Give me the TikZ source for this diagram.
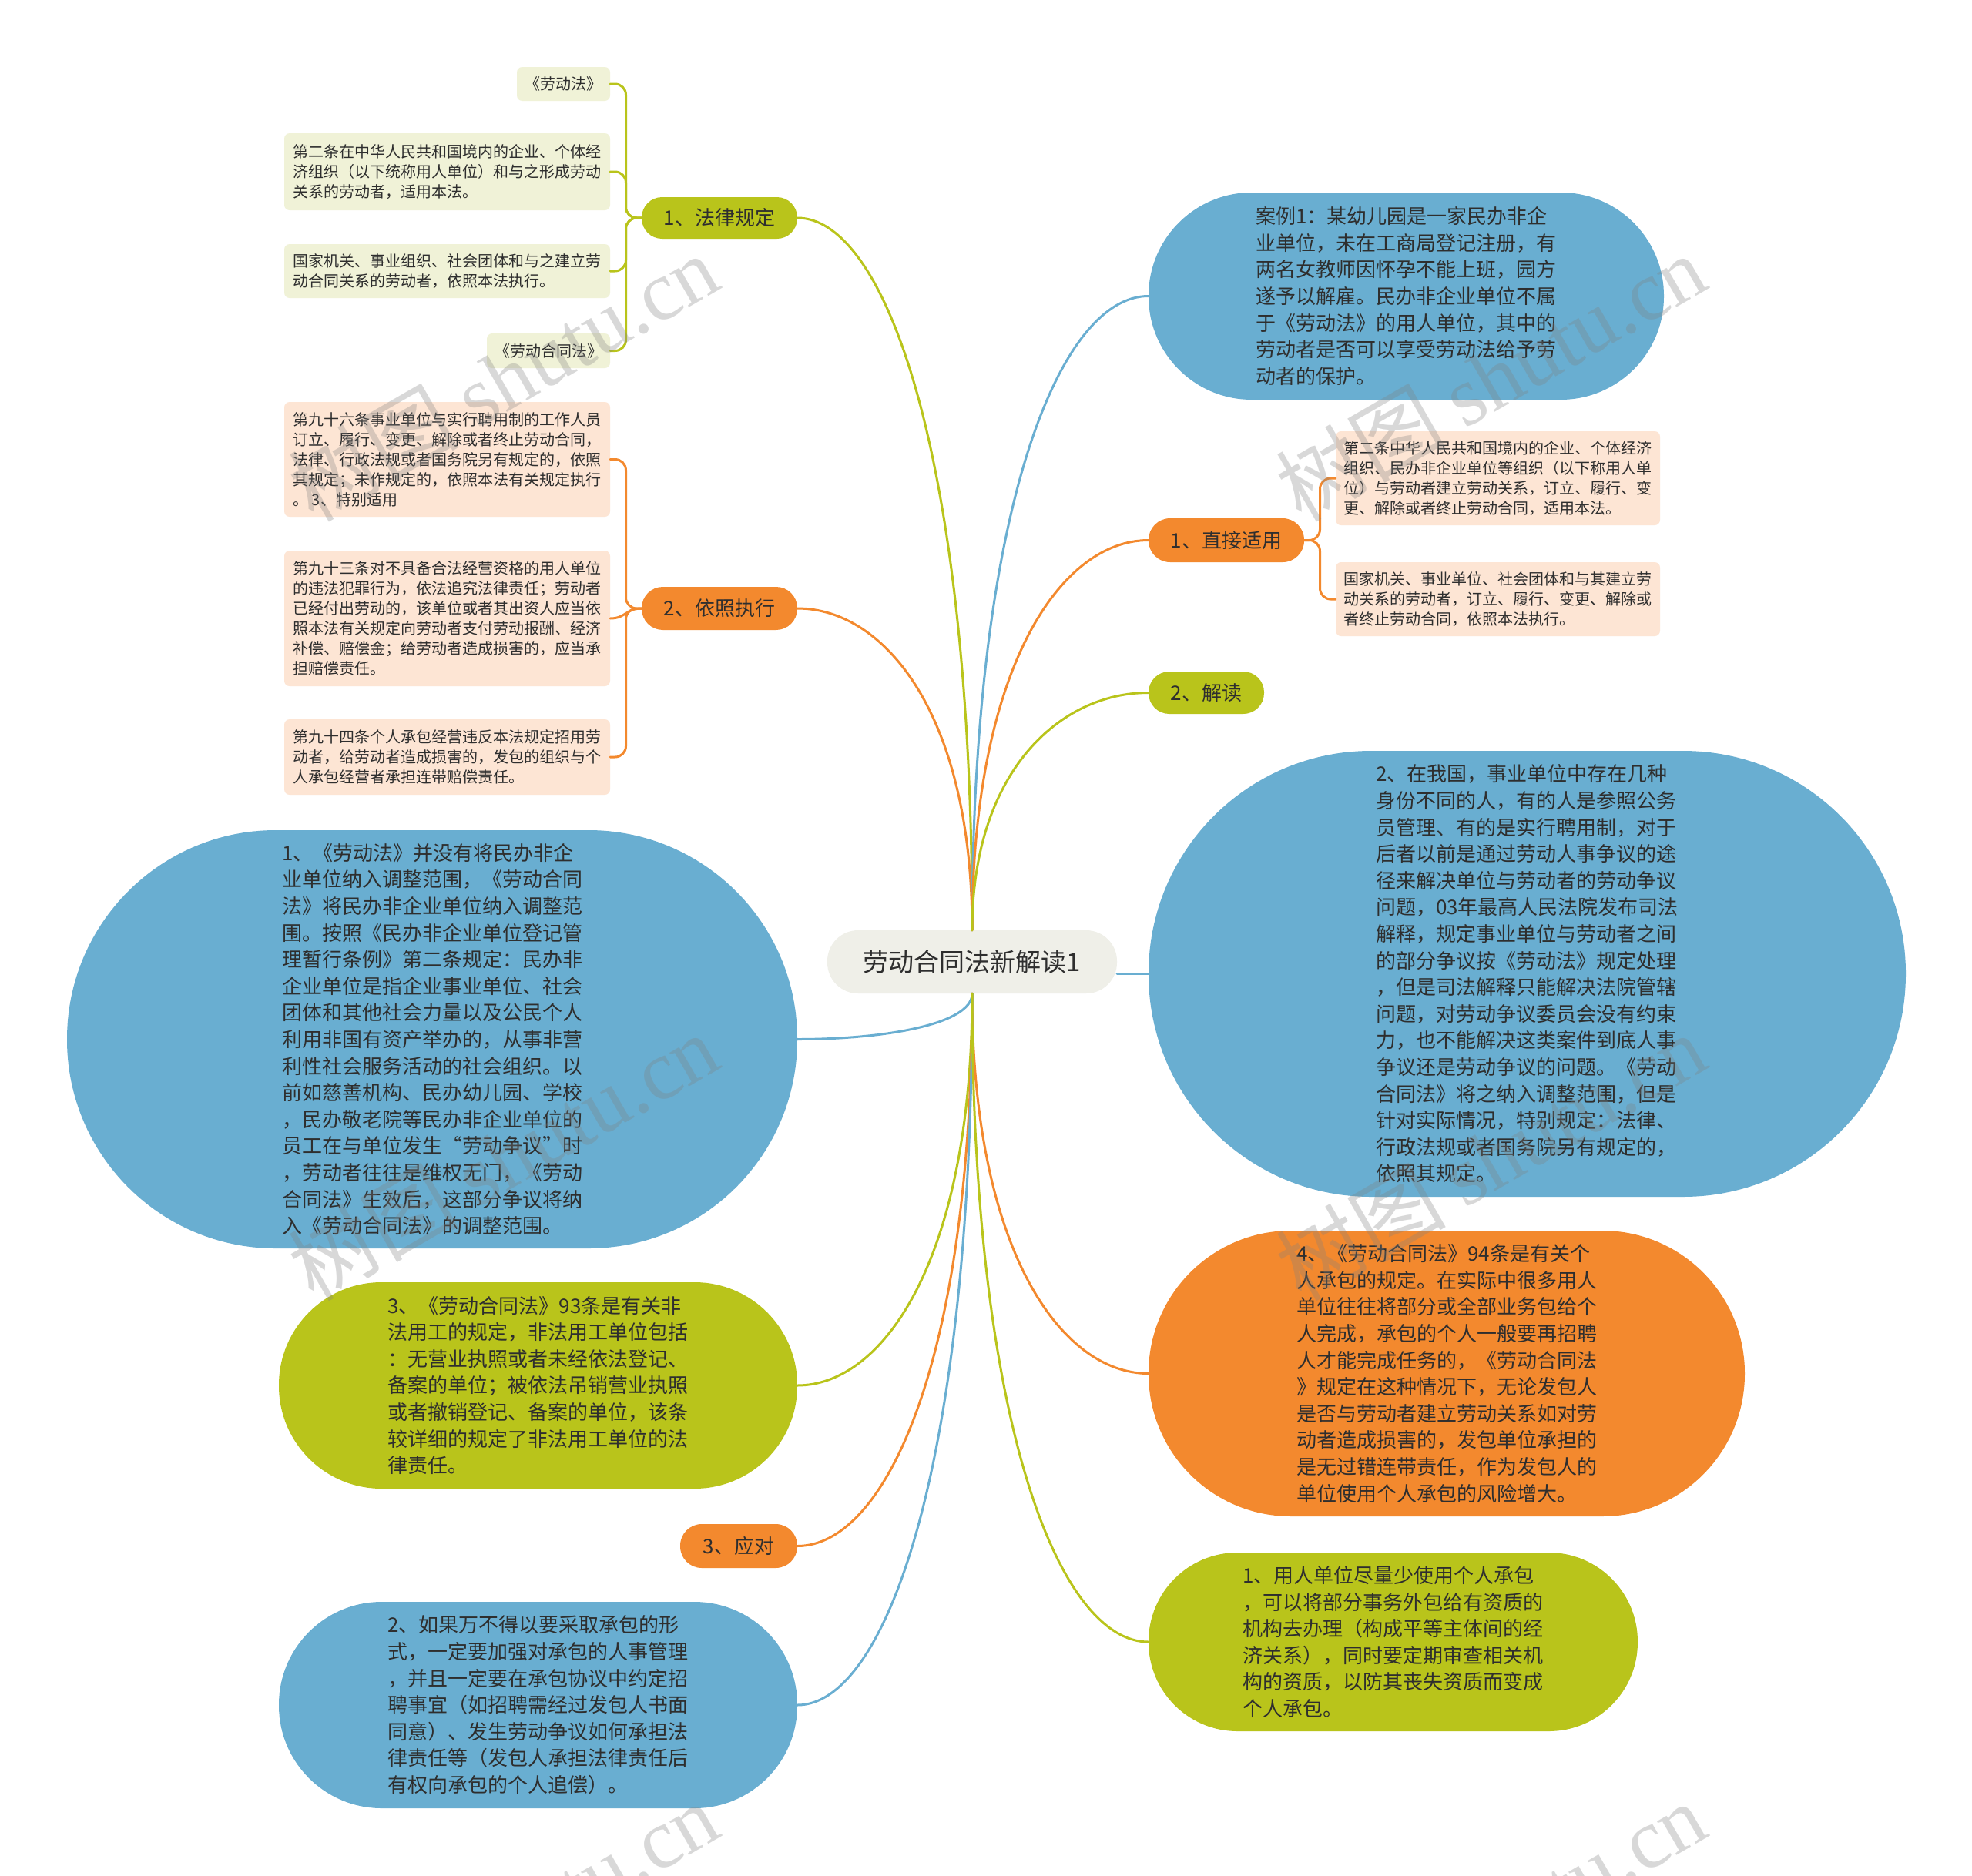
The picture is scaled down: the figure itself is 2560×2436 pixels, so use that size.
\documentclass[tikz,border=0pt]{standalone}
\usepackage{fontspec}
\newfontfamily\cjk{Noto Sans CJK SC}
\newfontfamily\wmserif{Liberation Serif}
\usetikzlibrary{calc}
\definecolor{cblue}{HTML}{69AED1}
\definecolor{corange}{HTML}{F3892E}
\definecolor{colive}{HTML}{B9C41B}
\definecolor{lgreen}{HTML}{F0F2D7}
\definecolor{lpeach}{HTML}{FDE5D4}
\definecolor{ccenter}{HTML}{EFEFE8}
\definecolor{ctext}{HTML}{2E2E2E}
\newcommand\curvelink[3]{\draw[ln,#1] (#2) .. controls ($(#2)!0.67!(#2 |- #3)$) and ($(#3)!0.5!(#2 |- #3)$) .. (#3);}
\newcommand\bracelink[3]{\draw[ln,#1,rounded corners=14pt] (#2) -| ($(#2)!0.5!(#3)$) |- (#3);}
\tikzset{
  base/.style={inner sep=0pt, align=left, text=ctext},
  leaf/.style={base, rounded corners=7pt, font=\cjk\fontsize{20}{26}\selectfont},
  big/.style={base, font=\cjk\fontsize{26}{34.6}\selectfont},
  br/.style={base, align=center, font=\cjk\fontsize{26}{34.6}\selectfont},
  ln/.style={line width=3pt, line cap=round},
  wm/.style={rotate=30, text=gray, opacity=0.3, font=\cjk\fontsize{110}{110}\selectfont},
}
\begin{document}
\begin{tikzpicture}[x=1pt,y=-1pt]
\fill[white] (0,0) rectangle (2560,2436);
\useasboundingbox (0,0) rectangle (2560,2436);

% center
\node[br, fill=ccenter, minimum width=376pt, minimum height=82pt, rounded corners=40pt,
      font=\cjk\fontsize{33}{40}\selectfont] (c) at (1262,1249) {劳动合同法新解读1};

% branch pills
\node[br, fill=colive, minimum width=202pt, minimum height=54pt, rounded corners=26.5pt] (fa) at (934,283) {1、法律规定};
\node[br, fill=corange, minimum width=202pt, minimum height=56pt, rounded corners=27.5pt] (yz) at (934,790) {2、依照执行};
\node[br, fill=corange, minimum width=152pt, minimum height=57pt, rounded corners=28pt] (yd) at (959,2007.5) {3、应对};
\node[br, fill=corange, minimum width=202pt, minimum height=57pt, rounded corners=28pt] (zj) at (1592,701.5) {1、直接适用};
\node[br, fill=colive, minimum width=150pt, minimum height=55pt, rounded corners=27pt] (jd) at (1566,899.5) {2、解读};

% big nodes right
\node[big, fill=cblue, minimum width=669pt, minimum height=269pt, rounded corners=134pt] (r1) at (1825.5,384.5)
{案例1：某幼儿园是一家民办非企\\业单位，未在工商局登记注册，有\\两名女教师因怀孕不能上班，园方\\遂予以解雇。民办非企业单位不属\\于《劳动法》的用人单位，其中的\\劳动者是否可以享受劳动法给予劳\\动者的保护。};
\node[big, fill=cblue, minimum width=983pt, minimum height=579pt, rounded corners=289pt] (r3) at (1982.5,1264.5)
{2、在我国，事业单位中存在几种\\身份不同的人，有的人是参照公务\\员管理、有的是实行聘用制，对于\\后者以前是通过劳动人事争议的途\\径来解决单位与劳动者的劳动争议\\问题，03年最高人民法院发布司法\\解释，规定事业单位与劳动者之间\\的部分争议按《劳动法》规定处理\\，但是司法解释只能解决法院管辖\\问题，对劳动争议委员会没有约束\\力，也不能解决这类案件到底人事\\争议还是劳动争议的问题。《劳动\\合同法》将之纳入调整范围，但是\\针对实际情况，特别规定：法律、\\行政法规或者国务院另有规定的，\\依照其规定。};
\node[big, fill=corange, minimum width=774pt, minimum height=371pt, rounded corners=185pt] (r4) at (1878,1783.5)
{4、《劳动合同法》94条是有关个\\人承包的规定。在实际中很多用人\\单位往往将部分或全部业务包给个\\人完成，承包的个人一般要再招聘\\人才能完成任务的，《劳动合同法\\》规定在这种情况下，无论发包人\\是否与劳动者建立劳动关系如对劳\\动者造成损害的，发包单位承担的\\是无过错连带责任，作为发包人的\\单位使用个人承包的风险增大。};
\node[big, fill=colive, minimum width=635pt, minimum height=232pt, rounded corners=115.5pt] (r5) at (1808.5,2132)
{1、用人单位尽量少使用个人承包\\，可以将部分事务外包给有资质的\\机构去办理（构成平等主体间的经\\济关系），同时要定期审查相关机\\构的资质，以防其丧失资质而变成\\个人承包。};

% big nodes left
\node[big, fill=cblue, minimum width=948pt, minimum height=543pt, rounded corners=271pt] (l1) at (561,1349.5)
{1、《劳动法》并没有将民办非企\\业单位纳入调整范围，《劳动合同\\法》将民办非企业单位纳入调整范\\围。按照《民办非企业单位登记管\\理暂行条例》第二条规定：民办非\\企业单位是指企业事业单位、社会\\团体和其他社会力量以及公民个人\\利用非国有资产举办的，从事非营\\利性社会服务活动的社会组织。以\\前如慈善机构、民办幼儿园、学校\\，民办敬老院等民办非企业单位的\\员工在与单位发生“劳动争议”时\\，劳动者往往是维权无门，《劳动\\合同法》生效后，这部分争议将纳\\入《劳动合同法》的调整范围。};
\node[big, fill=colive, minimum width=673pt, minimum height=268pt, rounded corners=133.5pt] (l2) at (698.5,1799)
{3、《劳动合同法》93条是有关非\\法用工的规定，非法用工单位包括\\：无营业执照或者未经依法登记、\\备案的单位；被依法吊销营业执照\\或者撤销登记、备案的单位，该条\\较详细的规定了非法用工单位的法\\律责任。};
\node[big, fill=cblue, minimum width=673pt, minimum height=268pt, rounded corners=133.5pt] (l3) at (698.5,2214)
{2、如果万不得以要采取承包的形\\式，一定要加强对承包的人事管理\\，并且一定要在承包协议中约定招\\聘事宜（如招聘需经过发包人书面\\同意）、发生劳动争议如何承担法\\律责任等（发包人承担法律责任后\\有权向承包的个人追偿）。};

% leaves
\node[leaf, fill=lgreen, minimum width=121pt, minimum height=44pt] (ll1) at (731.5,109) {《劳动法》};
\node[leaf, fill=lgreen, minimum width=423pt, minimum height=100pt] (ll2) at (580.5,223)
{第二条在中华人民共和国境内的企业、个体经\\济组织（以下统称用人单位）和与之形成劳动\\关系的劳动者，适用本法。};
\node[leaf, fill=lgreen, minimum width=423pt, minimum height=70pt] (ll3) at (580.5,352)
{国家机关、事业组织、社会团体和与之建立劳\\动合同关系的劳动者，依照本法执行。};
\node[leaf, fill=lgreen, minimum width=160pt, minimum height=45pt] (ll4) at (712,455.5) {《劳动合同法》};

\node[leaf, fill=lpeach, minimum width=423pt, minimum height=149pt] (lo1) at (580.5,596.5)
{第九十六条事业单位与实行聘用制的工作人员\\订立、履行、变更、解除或者终止劳动合同，\\法律、行政法规或者国务院另有规定的，依照\\其规定；未作规定的，依照本法有关规定执行\\。 3、特别适用};
\node[leaf, fill=lpeach, minimum width=423pt, minimum height=176pt] (lo2) at (580.5,803)
{第九十三条对不具备合法经营资格的用人单位\\的违法犯罪行为，依法追究法律责任；劳动者\\已经付出劳动的，该单位或者其出资人应当依\\照本法有关规定向劳动者支付劳动报酬、经济\\补偿、赔偿金；给劳动者造成损害的，应当承\\担赔偿责任。};
\node[leaf, fill=lpeach, minimum width=423pt, minimum height=98pt] (lo3) at (580.5,983)
{第九十四条个人承包经营违反本法规定招用劳\\动者，给劳动者造成损害的，发包的组织与个\\人承包经营者承担连带赔偿责任。};

\node[leaf, fill=lpeach, minimum width=421pt, minimum height=122pt] (rl1) at (1944.5,621)
{第二条中华人民共和国境内的企业、个体经济\\组织、民办非企业单位等组织（以下称用人单\\位）与劳动者建立劳动关系，订立、履行、变\\更、解除或者终止劳动合同，适用本法。};
\node[leaf, fill=lpeach, minimum width=421pt, minimum height=96pt] (rl2) at (1944.5,778)
{国家机关、事业单位、社会团体和与其建立劳\\动关系的劳动者，订立、履行、变更、解除或\\者终止劳动合同，依照本法执行。};

% center connectors (top)
\curvelink{colive}{c.north}{fa.east}
\curvelink{corange}{c.north}{yz.east}
\curvelink{cblue}{c.north}{r1.west}
\curvelink{corange}{c.north}{zj.west}
\curvelink{colive}{c.north}{jd.west}
% right straight
\draw[ln,cblue] (c.east |- r3.west) -- (r3.west);
% center connectors (bottom)
\curvelink{cblue}{c.south}{l1.east}
\curvelink{corange}{c.south}{r4.west}
\curvelink{colive}{c.south}{l2.east}
\curvelink{corange}{c.south}{yd.east}
\curvelink{cblue}{c.south}{l3.east}
\curvelink{colive}{c.south}{r5.west}

% leaf connectors
\bracelink{colive}{ll1.east}{fa.west}
\bracelink{colive}{ll2.east}{fa.west}
\bracelink{colive}{ll3.east}{fa.west}
\bracelink{colive}{ll4.east}{fa.west}
\bracelink{corange}{lo1.east}{yz.west}
\draw[ln,corange] (lo2.east) .. controls +(20,0) and +(-20,0) .. (yz.west);
\bracelink{corange}{lo3.east}{yz.west}
\bracelink{corange}{zj.east}{rl1.west}
\bracelink{corange}{zj.east}{rl2.west}

% watermarks
\node[wm] (wm1) at (653,490) {树图 {\wmserif shutu.cn}};
\node[wm] (wm2) at (1935,490) {树图 {\wmserif shutu.cn}};
\node[wm] (wm3) at (653,1502) {树图 {\wmserif shutu.cn}};
\node[wm] (wm4) at (1935,1502) {树图 {\wmserif shutu.cn}};
\node[wm] (wm5) at (653,2500) {树图 {\wmserif shutu.cn}};
\node[wm] (wm6) at (1935,2500) {树图 {\wmserif shutu.cn}};
\end{tikzpicture}
\end{document}
